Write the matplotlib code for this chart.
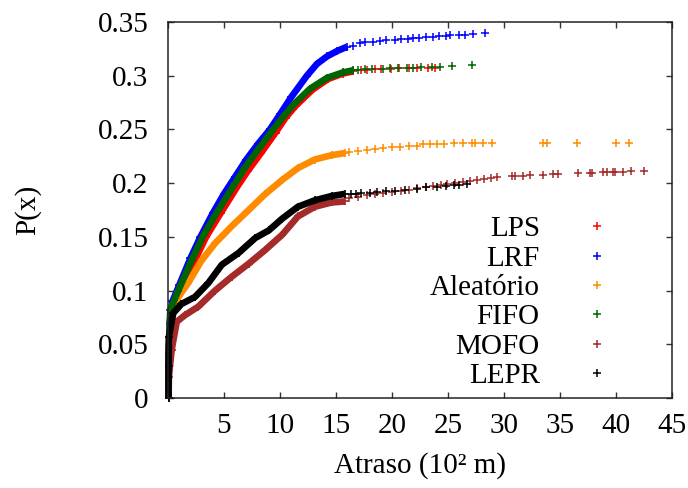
import matplotlib
matplotlib.use("Agg")
import matplotlib.pyplot as plt

plt.rcParams['font.family'] = ['Liberation Serif', 'DejaVu Serif']
plt.rcParams['font.size'] = 21

# ---- data (delay in 10^2 m, cumulative probability) ----
# LPS
lps_x = [0.05, 0.07, 0.25, 1.1, 2.3, 3.4, 4.7, 6.2, 7.1, 8.3, 9.6, 10.5, 11.4, 12.9, 14.3, 15.6, 16.5]
lps_y = [0, 0.04, 0.08, 0.098, 0.126, 0.15, 0.172, 0.197, 0.211, 0.228, 0.247, 0.261, 0.272, 0.287, 0.297, 0.302, 0.304]
lps_tail_x = [17.2, 17.8, 18.5, 19.0, 19.9, 20.6, 21.5, 22.2, 23.2, 23.8]
lps_tail_y = [0.305, 0.305, 0.306, 0.306, 0.306, 0.307, 0.307, 0.307, 0.307, 0.307]

# LRF
lrf_x = [0.05, 0.07, 0.15, 0.4, 1.0, 2.0, 2.9, 4.0, 5.0, 6.0, 7.0, 8.0, 9.1, 10.0, 11.0, 12.4, 13.3, 14.2, 15.1, 16.0]
lrf_y = [0, 0.04, 0.07, 0.09, 0.105, 0.13, 0.15, 0.172, 0.19, 0.206, 0.222, 0.236, 0.25, 0.264, 0.28, 0.3, 0.311, 0.318, 0.323, 0.327]
lrf_tail_x = [16.5, 17.1, 17.6, 18.3, 18.9, 19.5, 20.3, 20.8, 21.4, 21.9, 22.4, 23.0, 23.7, 24.2, 24.8, 25.2, 26.0, 26.5, 27.2, 28.3]
lrf_tail_y = [0.328, 0.33, 0.331, 0.331, 0.332, 0.333, 0.333, 0.334, 0.334, 0.335, 0.335, 0.336, 0.336, 0.337, 0.337, 0.3375, 0.338, 0.338, 0.339, 0.3395]

# Aleatório
ale_x = [0.05, 0.07, 0.25, 0.92, 1.8, 3.0, 4.2, 5.7, 7.2, 8.7, 10.2, 11.6, 13.1, 14.6, 15.8]
ale_y = [0, 0.04, 0.075, 0.094, 0.107, 0.128, 0.144, 0.16, 0.175, 0.19, 0.203, 0.214, 0.222, 0.226, 0.228]
ale_tail_x = [16.2, 17.0, 17.8, 18.5, 19.2, 20.0, 20.7, 21.5, 22.2, 22.8, 23.4, 24.0, 24.6, 25.5, 26.3,
              27.1, 27.4, 28.1, 28.9, 33.5, 33.8, 36.5, 40.0, 41.2]
ale_tail_y = [0.229, 0.23, 0.231, 0.232, 0.233, 0.234, 0.234, 0.235, 0.235, 0.236, 0.236, 0.236, 0.2365, 0.237, 0.237,
              0.237, 0.237, 0.237, 0.237, 0.2375, 0.2375, 0.2375, 0.2375, 0.2375]

# FIFO
fifo_x = [0.05, 0.07, 0.2, 0.92, 2.1, 3.2, 4.5, 6.0, 6.9, 8.1, 9.4, 10.3, 11.2, 12.7, 14.2, 15.6, 16.5]
fifo_y = [0, 0.04, 0.082, 0.1, 0.128, 0.152, 0.175, 0.2, 0.215, 0.232, 0.25, 0.262, 0.273, 0.288, 0.298, 0.303, 0.305]
fifo_tail_x = [17.0, 17.6, 18.2, 19.2, 19.8, 20.5, 21.3, 21.9, 22.6, 23.6, 24.3, 25.4, 27.1]
fifo_tail_y = [0.305, 0.306, 0.306, 0.306, 0.307, 0.307, 0.307, 0.307, 0.308, 0.308, 0.308, 0.309, 0.31]

# MOFO
mofo_x = [0.05, 0.08, 0.33, 0.78, 1.5, 2.7, 4.2, 5.7, 7.2, 8.7, 10.2, 11.6, 13.1, 14.6, 15.8]
mofo_y = [0, 0.02, 0.045, 0.071, 0.077, 0.085, 0.10, 0.113, 0.125, 0.138, 0.152, 0.169, 0.178, 0.182, 0.183]
mofo_tail_x = [16.2, 17.0, 17.8, 18.5, 19.2, 20.0, 20.8, 21.5, 22.2, 23.0, 23.7, 24.4, 24.9, 25.6, 26.3, 27.0,
               27.6, 28.2, 28.8, 29.4, 30.7, 31.0, 31.7, 32.3, 33.5, 34.4, 34.8, 36.6, 37.7, 37.9, 38.8,
               39.2, 39.7, 39.9, 40.6, 41.3, 42.5]
mofo_tail_y = [0.186, 0.187, 0.189, 0.19, 0.191, 0.192, 0.193, 0.194, 0.1955, 0.196, 0.197, 0.198, 0.199, 0.2,
               0.201, 0.202, 0.203, 0.204, 0.205, 0.206, 0.2065, 0.207, 0.207, 0.2075, 0.208, 0.2085, 0.2085,
               0.209, 0.2095, 0.2095, 0.21, 0.21, 0.21, 0.21, 0.2105, 0.211, 0.211]

# LEPR
lepr_x = [0.05, 0.05, 0.08, 0.47, 1.2, 2.4, 3.6, 4.8, 6.3, 7.8, 9.0, 10.2, 11.6, 13.1, 14.6, 15.8]
lepr_y = [0, 0.03, 0.057, 0.079, 0.0875, 0.094, 0.107, 0.124, 0.135, 0.149, 0.156, 0.167, 0.178, 0.184, 0.188, 0.19]
lepr_tail_x = [16.3, 16.8, 17.2, 18.0, 18.7, 19.5, 20.3, 21.2, 22.2, 23.0, 24.0, 24.8, 25.5, 26.0, 26.7]
lepr_tail_y = [0.19, 0.19, 0.191, 0.191, 0.192, 0.193, 0.193, 0.194, 0.195, 0.196, 0.196, 0.197, 0.198, 0.198, 0.199]

series = [
    ('LPS', '#ff0000', lps_x, lps_y, lps_tail_x, lps_tail_y),
    ('LRF', '#0000ff', lrf_x, lrf_y, lrf_tail_x, lrf_tail_y),
    ('Aleatório', '#ff8c00', ale_x, ale_y, ale_tail_x, ale_tail_y),
    ('FIFO', '#006400', fifo_x, fifo_y, fifo_tail_x, fifo_tail_y),
    ('MOFO', '#a52a2a', mofo_x, mofo_y, mofo_tail_x, mofo_tail_y),
    ('LEPR', '#000000', lepr_x, lepr_y, lepr_tail_x, lepr_tail_y),
]

fig = plt.figure(figsize=(6.88, 4.88), dpi=100)
ax = fig.add_axes([168 / 688, 90 / 488, 504 / 688, 376 / 488])

handles = []
for name, col, x, y, tx, ty in series:
    # dense part: the crosses overlap into a thick band
    ax.plot(x, y, color=col, lw=4.8, marker='+', ms=6, mew=1.2,
            solid_capstyle='butt', solid_joinstyle='round', clip_on=False)
    h, = ax.plot(tx, ty, color=col, ls='none', marker='+', ms=6, mew=1.1, label=name)
    handles.append(h)

ax.set_xlim(0, 45)
ax.set_ylim(0, 0.35)
ax.set_xticks([0, 5, 10, 15, 20, 25, 30, 35, 40, 45])
ax.set_xticklabels(['', '5', '10', '15', '20', '25', '30', '35', '40', '45'])
ax.set_yticks([0, 0.05, 0.1, 0.15, 0.2, 0.25, 0.3, 0.35])
ax.set_yticklabels(['0', '0.05', '0.1', '0.15', '0.2', '0.25', '0.3', '0.35'])
ax.tick_params(direction='in', length=4.5, width=1, top=True, right=True, color='#333333')
ax.tick_params(axis='x', pad=11)
ax.tick_params(axis='y', pad=14)
for s in ax.spines.values():
    s.set_linewidth(1.1)
    s.set_color('#222222')

ax.set_xlabel('Atraso (10² m)')
ax.set_ylabel('P(x)')
ax.xaxis.set_label_coords(0.5, -0.145)
ax.yaxis.set_label_coords(-0.252, 0.5)

leg = ax.legend(handles=handles, loc='lower right', bbox_to_anchor=(0.909, -0.015),
                frameon=False, markerfirst=False, handlelength=1.0, handletextpad=1.46,
                borderpad=0, labelspacing=0.1, fontsize=21)

fig.savefig('out.png', dpi=100)
